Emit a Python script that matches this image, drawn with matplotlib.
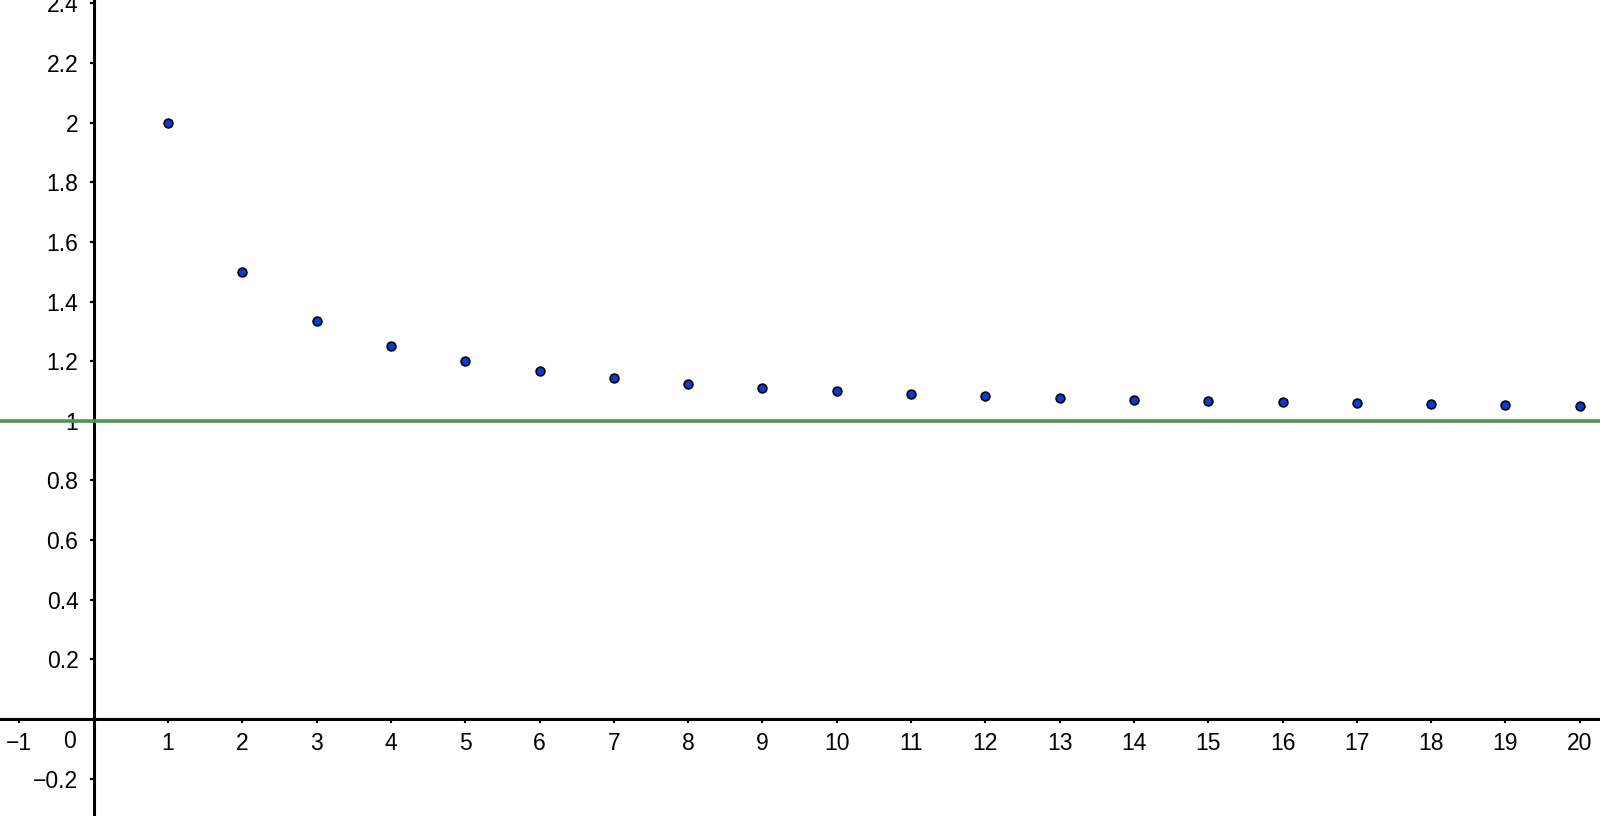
import matplotlib
matplotlib.use("Agg")
import matplotlib.pyplot as plt

plt.rcParams['font.family'] = ['Liberation Sans', 'DejaVu Sans']

# Data
n_values = list(range(1, 21))
a_values = [2.0, 1.5, 1.3333, 1.25, 1.2, 1.1667, 1.1429, 1.125, 1.1111, 1.1,
            1.0909, 1.0833, 1.0769, 1.0714, 1.0667, 1.0625, 1.0588, 1.0556, 1.0526, 1.05]
limit_value = 1.0
x_ticks = [-1] + list(range(1, 21))
x_tick_labels = ['\u22121'] + [str(i) for i in range(1, 21)]
y_ticks = [-0.2, 0.2, 0.4, 0.6, 0.8, 1.0, 1.2, 1.4, 1.6, 1.8, 2.0, 2.2, 2.4]
y_tick_labels = ['\u22120.2', '0.2', '0.4', '0.6', '0.8', '1', '1.2', '1.4', '1.6', '1.8', '2', '2.2', '2.4']

fig = plt.figure(figsize=(16, 8.16), dpi=100)
ax = fig.add_axes([0, 0, 1, 1])
ax.set_xlim(-1.261, 20.273)
ax.set_ylim(-0.325, 2.411)

for side in ('top', 'right'):
    ax.spines[side].set_visible(False)
for side in ('left', 'bottom'):
    ax.spines[side].set_position(('data', 0))
    ax.spines[side].set_linewidth(2.2)
    ax.spines[side].set_color('black')

ax.axhline(limit_value, color='#54915a', linewidth=2.6, zorder=4)

ax.plot(n_values, a_values, linestyle='none', marker='o', markersize=6.3,
        markerfacecolor='#0b3bd6', markeredgecolor='black', markeredgewidth=1.2, zorder=5,
        clip_on=False)

ax.set_xticks(x_ticks)
ax.set_xticklabels(x_tick_labels)
ax.set_yticks(y_ticks)
ax.set_yticklabels(y_tick_labels)
ax.tick_params(axis='both', direction='out', length=3, width=1.6, labelsize=16.5, colors='black')
ax.tick_params(axis='x', pad=6)
ax.tick_params(axis='y', pad=8)

ax.text(-0.32, -0.036, '0', fontsize=16.5, ha='center', va='top')

fig.savefig('out.png', dpi=100)
